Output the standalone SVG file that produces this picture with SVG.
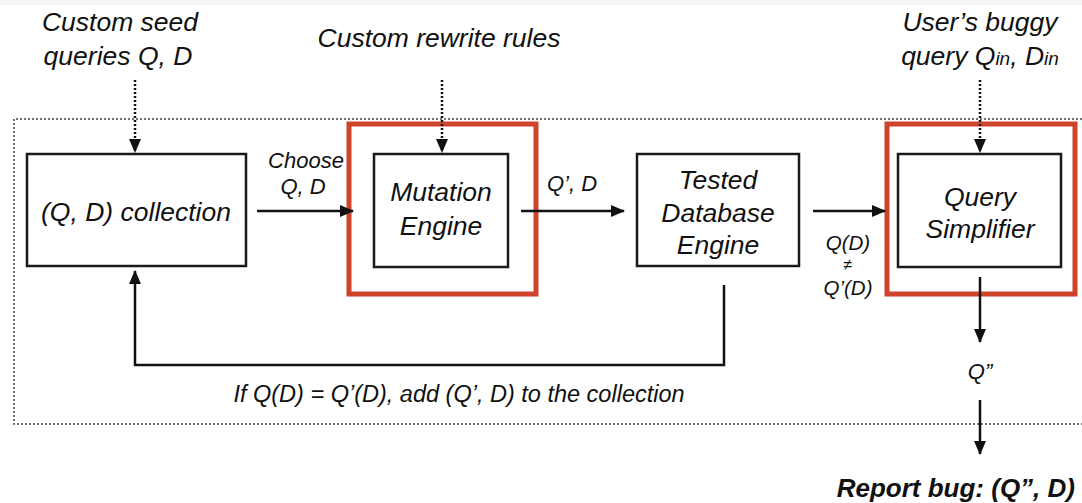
<svg xmlns="http://www.w3.org/2000/svg" width="1082" height="503" viewBox="0 0 1082 503">
<defs>
<style>
text{font-family:"Liberation Sans",Arial,sans-serif;font-style:italic;fill:#111;}
.box{fill:#fff;stroke:#1a1a1a;stroke-width:2.5;}
.red{fill:none;stroke:#d0432b;stroke-width:5;}
.ln{fill:none;stroke:#111;stroke-width:2.5;}
.dot{fill:none;stroke:#111;stroke-width:2.5;stroke-dasharray:2 2;}
.big{font-size:26.5px;}
.sm{font-size:22px;}
</style>
<marker id="ah" markerWidth="14" markerHeight="12" refX="13" refY="6" orient="auto" markerUnits="userSpaceOnUse">
<path d="M0,0 L14,6 L0,12 Z" fill="#111"/>
</marker>
</defs>
<rect x="0" y="0" width="1082" height="503" fill="#fff"/>
<rect x="0" y="0" width="1082" height="5" fill="#f4f4f4"/>
<path d="M1090,119 H14 V424 H1090" fill="none" stroke="#444" stroke-width="1.5" stroke-dasharray="2 2"/>

<g id="labels">
<text class="big" x="120" y="31" text-anchor="middle">Custom seed</text>
<text class="big" x="118" y="65" text-anchor="middle">queries Q, D</text>
<text class="big" x="439" y="47" text-anchor="middle">Custom rewrite rules</text>
<text class="big" x="980" y="31" text-anchor="middle">User’s buggy</text>
<text class="big" x="980" y="65" text-anchor="middle">query Q<tspan font-size="19">in</tspan>, D<tspan font-size="19">in</tspan></text>
</g>

<g id="collection">
<rect class="box" x="27" y="154" width="219" height="112"/>
<text class="big" x="136" y="221" text-anchor="middle">(Q, D) collection</text>
</g>
<g id="mutation">
<rect class="red" x="349" y="124" width="187" height="170"/>
<rect class="box" x="374" y="154" width="134" height="113"/>
<text class="big" x="441" y="201" text-anchor="middle">Mutation</text>
<text class="big" x="441" y="235" text-anchor="middle">Engine</text>
</g>
<g id="tested">
<rect class="box" x="637" y="154" width="162" height="112"/>
<text class="big" x="718" y="189" text-anchor="middle">Tested</text>
<text class="big" x="718" y="222" text-anchor="middle">Database</text>
<text class="big" x="718" y="254" text-anchor="middle">Engine</text>
</g>
<g id="simplifier">
<rect class="red" x="887" y="124" width="188" height="170"/>
<rect class="box" x="898" y="154" width="163" height="113"/>
<text class="big" x="980" y="206" text-anchor="middle">Query</text>
<text class="big" x="980" y="238" text-anchor="middle">Simplifier</text>
</g>
<g id="report">
<text x="1075" y="497" text-anchor="end" font-size="26" font-weight="bold">Report bug: (Q”, D)</text>
</g>

<g id="connectors">
<line class="dot" x1="135" y1="80" x2="135" y2="152" marker-end="url(#ah)"/>
<line class="dot" x1="442" y1="80" x2="442" y2="152" marker-end="url(#ah)"/>
<line class="dot" x1="980" y1="80" x2="980" y2="152" marker-end="url(#ah)"/>
<line class="ln" x1="257" y1="211" x2="353" y2="211" marker-end="url(#ah)"/>
<line class="ln" x1="521" y1="211" x2="624" y2="211" marker-end="url(#ah)"/>
<line class="ln" x1="813" y1="211" x2="885" y2="211" marker-end="url(#ah)"/>
<polyline class="ln" points="724,285 724,365 135,365 135,271" marker-end="url(#ah)"/>
<line class="ln" x1="980" y1="277" x2="980" y2="342" marker-end="url(#ah)"/>
<line class="ln" x1="980" y1="400" x2="980" y2="454" marker-end="url(#ah)"/>
<text class="sm" x="306" y="168" text-anchor="middle">Choose</text>
<text class="sm" x="303" y="194" text-anchor="middle">Q, D</text>
<text class="sm" x="572" y="191" text-anchor="middle">Q’, D</text>
<text x="848" y="250" text-anchor="middle" font-size="20.5">Q(D)</text>
<text x="848" y="270" text-anchor="middle" font-size="16">≠</text>
<text x="848" y="295" text-anchor="middle" font-size="20.5">Q’(D)</text>
<text x="459" y="402" text-anchor="middle" font-size="23.5">If Q(D) = Q’(D), add (Q’, D) to the collection</text>
<text class="sm" x="980" y="379" text-anchor="middle">Q”</text>
</g>
</svg>
